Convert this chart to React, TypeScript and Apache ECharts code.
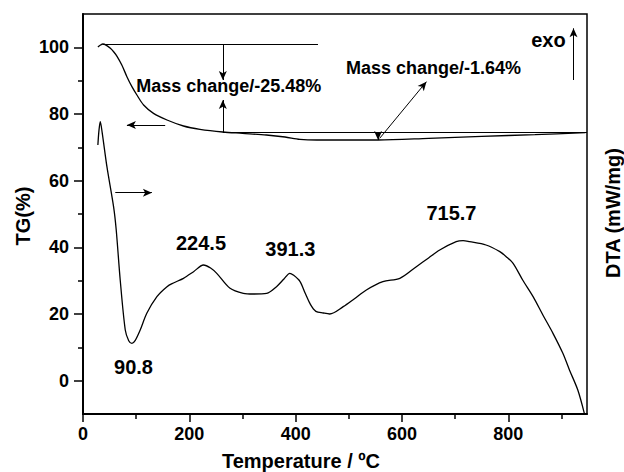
import React, { useEffect, useRef } from "react";
import * as echarts from "echarts";

// Temperature (ºC) vs TG (%)
const tgData: [number, number][] = [
  [28, 100.1], [33, 100.7], [37.5, 101.0], [44, 100.6], [51.5, 99.7], [58, 98.6], [64, 97.3],
  [73, 94.7], [82.6, 91.2], [92, 88.2], [101.4, 85.7], [114, 82.7], [132.6, 80.2], [158, 78.2],
  [189, 76.4], [220, 75.4], [263, 74.6], [300, 74.2], [345, 73.7], [380, 73.1], [408, 72.4],
  [440, 72.2], [500, 72.2], [555, 72.2], [650, 72.7], [750, 73.3], [850, 73.8], [945, 74.4],
];

// Temperature (ºC) vs DTA (drawn on the same visual scale, axis unlabelled)
const dtaData: [number, number][] = [
  [28, 70.7], [30, 75], [32.5, 77.7], [36, 74.5], [45, 64.2], [57.5, 52.2], [62.5, 45.2],
  [70, 30.2], [79.5, 15.2], [86, 12], [92, 11.2], [98, 12], [107.6, 15.2], [120, 20.2],
  [139, 25.2], [158, 28.2], [170, 29.3], [189, 30.7], [208, 32.7], [226.5, 34.7], [240, 33.8],
  [251.6, 32.2], [276.6, 27.7], [301.6, 26.2], [320, 26], [345.5, 26.2], [364, 28.2],
  [378, 30.5], [389, 32.2], [395.5, 31.7], [408, 29.8], [418, 26.2], [428, 22.8], [438, 20.8],
  [452, 20.3], [464, 20.0], [489.5, 22.2], [510, 24.5], [533, 27.2], [564, 29.7], [596, 30.7],
  [627, 34.2], [650, 36.8], [671, 39.2], [702, 41.7], [715, 42], [727, 41.7], [758, 40.7],
  [784, 38.7], [796, 37.2], [809, 35.2], [827, 30.2], [846.6, 25.2], [865, 19.7], [884, 14.2],
  [902.6, 8.2], [915, 3.2], [930.7, -2.8], [943, -9.8],
];

const xMajorTicks = [0, 200, 400, 600, 800];
const xMinorTicks = [100, 300, 500, 700, 900];
const yMajorTicks = [0, 20, 40, 60, 80, 100];
const yMinorTicks = [10, 30, 50, 70, 90];

const peakTexts = ["90.8", "224.5", "391.3", "715.7"];
const massChangeTexts = ["Mass change/-25.48%", "Mass change/-1.64%"];

const FONT = '"Liberation Sans", Arial, Helvetica, sans-serif';
const X_MIN = 0;
const X_MAX = 948;
const Y_MIN = -10;
const Y_MAX = 110;

export default function App() {
  const ref = useRef<HTMLDivElement>(null);

  useEffect(() => {
    document.body.style.margin = "0";
    if (!ref.current) return;
    const chart = echarts.init(ref.current, undefined, { renderer: "svg" });

    const boldText = (size: number) => ({
      fontFamily: FONT,
      fontWeight: "bold" as const,
      fontSize: size,
      color: "#000",
    });

    const seg = (a: [number, number], b: [number, number], startSym: string, endSym: string) => [
      { coord: a, symbol: startSym },
      { coord: b, symbol: endSym },
    ];

    const peakPos: [number, number][] = [
      [95, 4.2],
      [222, 41.2],
      [390, 39.5],
      [693, 50.2],
    ];

    const option: echarts.EChartsOption = {
      animation: false,
      backgroundColor: "#fff",
      grid: {
        left: 83,
        top: 14,
        width: 504,
        height: 400,
        show: true,
        borderColor: "#000",
        borderWidth: 1.5,
        backgroundColor: "transparent",
      },
      xAxis: [
        {
          type: "value",
          min: X_MIN,
          max: X_MAX,
          position: "bottom",
          axisLine: { show: true, onZero: false, lineStyle: { color: "#000", width: 2 } },
          axisTick: {
            show: true,
            customValues: xMajorTicks,
            length: 8,
            lineStyle: { color: "#000", width: 1.5 },
          },
          axisLabel: { customValues: xMajorTicks, margin: 11, ...boldText(18) },
          splitLine: { show: false },
        },
        {
          type: "value",
          min: X_MIN,
          max: X_MAX,
          position: "bottom",
          axisLine: { show: false, onZero: false },
          axisTick: {
            show: true,
            customValues: xMinorTicks,
            length: 5,
            lineStyle: { color: "#000", width: 1.5 },
          },
          axisLabel: { show: false },
          splitLine: { show: false },
        },
      ],
      yAxis: [
        {
          type: "value",
          min: Y_MIN,
          max: Y_MAX,
          position: "left",
          axisLine: { show: true, onZero: false, lineStyle: { color: "#000", width: 2 } },
          axisTick: {
            show: true,
            customValues: yMajorTicks,
            length: 9,
            lineStyle: { color: "#000", width: 1.5 },
          },
          axisLabel: { customValues: yMajorTicks, margin: 14, ...boldText(18) },
          splitLine: { show: false },
        },
        {
          type: "value",
          min: Y_MIN,
          max: Y_MAX,
          position: "left",
          axisLine: { show: false, onZero: false },
          axisTick: {
            show: true,
            customValues: yMinorTicks,
            length: 5,
            lineStyle: { color: "#000", width: 1.5 },
          },
          axisLabel: { show: false },
          splitLine: { show: false },
        },
        {
          type: "value",
          min: Y_MIN,
          max: Y_MAX,
          position: "right",
          axisLine: { show: false, onZero: false },
          axisTick: { show: false },
          axisLabel: { show: false },
          splitLine: { show: false },
        },
      ],
      graphic: [
        {
          type: "text",
          x: 23,
          y: 216,
          rotation: Math.PI / 2,
          style: {
            text: "TG(%)",
            align: "center",
            verticalAlign: "middle",
            font: `bold 20px ${FONT}`,
            fill: "#000",
          },
        },
        {
          type: "text",
          x: 613,
          y: 213,
          rotation: Math.PI / 2,
          style: {
            text: "DTA (mW/mg)",
            align: "center",
            verticalAlign: "middle",
            font: `bold 20px ${FONT}`,
            fill: "#000",
          },
        },
        {
          type: "text",
          x: 301,
          y: 461,
          style: {
            text: "Temperature / ºC",
            align: "center",
            verticalAlign: "middle",
            font: `bold 20px ${FONT}`,
            fill: "#000",
          },
        },
      ],
      series: [
        {
          name: "TG",
          type: "line",
          xAxisIndex: 0,
          yAxisIndex: 0,
          data: tgData,
          showSymbol: false,
          symbol: "none",
          smooth: 0.3,
          silent: true,
          lineStyle: { color: "#000", width: 1.3 },
          markLine: {
            silent: true,
            animation: false,
            symbolSize: [6, 9],
            label: { show: false },
            lineStyle: { color: "#000", width: 1, type: "solid" },
            emphasis: { disabled: true },
            data: [
              seg([37.6, 101.0], [442, 101.0], "none", "none"),
              seg([263, 74.6], [948, 74.6], "none", "none"),
              seg([263, 101.0], [263, 90.2], "none", "arrow"),
              seg([263, 74.6], [263, 84.2], "none", "arrow"),
              seg([555, 74.6], [555, 72.2], "none", "arrow"),
              seg([558, 72.7], [646, 89.7], "none", "arrow"),
              seg([154.6, 76.7], [82.6, 76.7], "none", "arrow"),
              seg([60.7, 56.4], [129.6, 56.4], "none", "arrow"),
              seg([922.6, 90.2], [922.6, 105.7], "none", "arrow"),
            ] as any,
          },
          markPoint: {
            silent: true,
            animation: false,
            symbol: "circle",
            symbolSize: 0,
            itemStyle: { color: "transparent" },
            data: [
              {
                coord: [100, 88.4],
                label: {
                  show: true,
                  position: "right",
                  distance: 0,
                  formatter: massChangeTexts[0],
                  ...boldText(18),
                },
              },
              {
                coord: [494.5, 93.8],
                label: {
                  show: true,
                  position: "right",
                  distance: 0,
                  formatter: massChangeTexts[1],
                  ...boldText(18),
                },
              },
              {
                coord: [843, 102.2],
                label: {
                  show: true,
                  position: "right",
                  distance: 0,
                  formatter: "exo",
                  ...boldText(20),
                },
              },
              ...peakTexts.map((t, i) => ({
                coord: peakPos[i],
                label: {
                  show: true,
                  position: "inside" as const,
                  formatter: t,
                  ...boldText(20),
                },
              })),
            ] as any,
          },
        },
        {
          name: "DTA",
          type: "line",
          xAxisIndex: 0,
          yAxisIndex: 2,
          data: dtaData,
          showSymbol: false,
          symbol: "none",
          smooth: 0.3,
          silent: true,
          lineStyle: { color: "#000", width: 1.3 },
        },
      ],
    };

    chart.setOption(option);
    return () => chart.dispose();
  }, []);

  return <div ref={ref} style={{ width: 624, height: 472 }} />;
}
